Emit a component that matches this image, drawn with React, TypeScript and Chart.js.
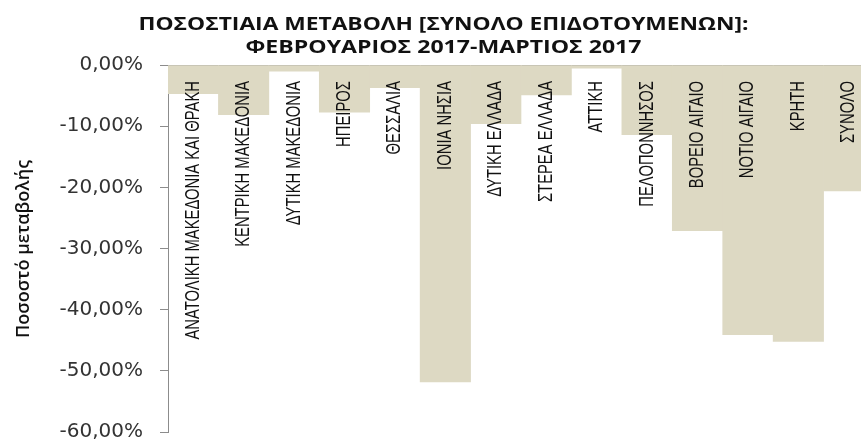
import React, { useEffect, useRef } from "react";
import { Chart, registerables } from "chart.js";

Chart.register(...registerables);

const categories = [
  "ΑΝΑΤΟΛΙΚΗ ΜΑΚΕΔΟΝΙΑ ΚΑΙ ΘΡΑΚΗ",
  "ΚΕΝΤΡΙΚΗ ΜΑΚΕΔΟΝΙΑ",
  "ΔΥΤΙΚΗ ΜΑΚΕΔΟΝΙΑ",
  "ΗΠΕΙΡΟΣ",
  "ΘΕΣΣΑΛΙΑ",
  "ΙΟΝΙΑ ΝΗΣΙΑ",
  "ΔΥΤΙΚΗ ΕΛΛΑΔΑ",
  "ΣΤΕΡΕΑ ΕΛΛΑΔΑ",
  "ΑΤΤΙΚΗ",
  "ΠΕΛΟΠΟΝΝΗΣΟΣ",
  "ΒΟΡΕΙΟ ΑΙΓΑΙΟ",
  "ΝΟΤΙΟ ΑΙΓΑΙΟ",
  "ΚΡΗΤΗ",
  "ΣΥΝΟΛΟ",
];

const changePct = [
  -4.7, -8.1, -1.0, -7.7, -3.7, -51.8, -9.6, -4.9, -0.5, -11.4, -27.1, -44.1, -45.2, -20.6,
];

const titleLines = [
  "ΠΟΣΟΣΤΙΑΙΑ ΜΕΤΑΒΟΛΗ [ΣΥΝΟΛΟ ΕΠΙΔΟΤΟΥΜΕΝΩΝ]:",
  "ΦΕΒΡΟΥΑΡΙΟΣ 2017-ΜΑΡΤΙΟΣ 2017",
];
const yAxisTitle = "Ποσοστό μεταβολής";
const yMin = -60;
const yMax = 0;
const yStep = 10;

const formatPct = (v: number) => v.toFixed(2).replace(".", ",") + "%";

const decorPlugin = {
  id: "decor",
  afterDraw(chart: any) {
    const ctx = chart.ctx as CanvasRenderingContext2D;
    const area = chart.chartArea;
    const xs = chart.scales.x;

    // category labels (rotated, inside plot near top)
    ctx.save();
    ctx.fillStyle = "#111111";
    ctx.font = "20px 'Liberation Sans', Arial, sans-serif";
    ctx.textAlign = "right";
    ctx.textBaseline = "middle";
    categories.forEach((c, i) => {
      const x = xs.getPixelForValue(i);
      ctx.save();
      ctx.translate(x, area.top + 16);
      ctx.rotate(-Math.PI / 2);
      ctx.scale(0.74, 1);
      ctx.fillText(c, 0, 0);
      ctx.restore();
    });
    ctx.restore();

    // title
    ctx.save();
    ctx.fillStyle = "#111111";
    ctx.font = "bold 18px 'Open Sans', sans-serif";
    ctx.textAlign = "center";
    ctx.textBaseline = "middle";
    const tw = [610, 396];
    const ty = [25, 48];
    titleLines.forEach((t, i) => {
      const w = ctx.measureText(t).width;
      ctx.save();
      ctx.translate(443.5, ty[i]);
      ctx.scale(tw[i] / w, 1);
      ctx.fillText(t, 0, 0);
      ctx.restore();
    });
    ctx.restore();

    // y axis title
    ctx.save();
    ctx.fillStyle = "#111111";
    ctx.font = "600 18px 'Open Sans', sans-serif";
    ctx.textAlign = "center";
    ctx.textBaseline = "middle";
    const w = ctx.measureText(yAxisTitle).width;
    ctx.translate(24, 249);
    ctx.rotate(-Math.PI / 2);
    ctx.scale(178 / w, 1);
    ctx.fillText(yAxisTitle, 0, 0);
    ctx.restore();
  },
};

export default function App() {
  const ref = useRef<HTMLCanvasElement | null>(null);

  useEffect(() => {
    if (!ref.current) return;
    const chart = new Chart(ref.current, {
      type: "bar",
      data: {
        labels: categories,
        datasets: [
          {
            data: changePct,
            backgroundColor: "#DDD9C3",
            borderWidth: 0,
            barPercentage: 1,
            categoryPercentage: 1,
          },
        ],
      },
      options: {
        responsive: false,
        animation: false,
        devicePixelRatio: 1,
        layout: { padding: { top: 0, left: 0, right: 6, bottom: 9 } },
        plugins: {
          legend: { display: false },
          title: { display: false },
          tooltip: { enabled: false },
        },
        scales: {
          x: {
            position: "top",
            ticks: { display: false },
            grid: { display: false, drawTicks: false },
            border: { display: true, color: "#8C8C8C", width: 1 },
            afterFit: (s: any) => {
              s.height = 65;
              s.paddingLeft = 0;
              s.paddingRight = 0;
            },
          },
          y: {
            min: yMin,
            max: yMax,
            ticks: {
              stepSize: yStep,
              padding: 17,
              color: "#333333",
              font: { family: "'DejaVu Sans', sans-serif", size: 20 },
              callback: (v: any) => formatPct(Number(v)),
            },
            grid: {
              display: true,
              drawOnChartArea: false,
              drawTicks: true,
              tickLength: 8,
              color: "#8C8C8C",
            },
            border: { display: true, color: "#8C8C8C", width: 1 },
            afterFit: (s: any) => {
              s.width = 168;
              s.paddingTop = 0;
              s.paddingBottom = 0;
            },
          },
        },
      },
      plugins: [decorPlugin],
    });
    return () => chart.destroy();
  }, []);

  return (
    <div
      style={{
        position: "fixed",
        left: 0,
        top: 0,
        width: 861,
        height: 441,
        overflow: "hidden",
        background: "#ffffff",
      }}
    >
      <canvas ref={ref} width={880} height={441} style={{ display: "block" }} />
    </div>
  );
}
